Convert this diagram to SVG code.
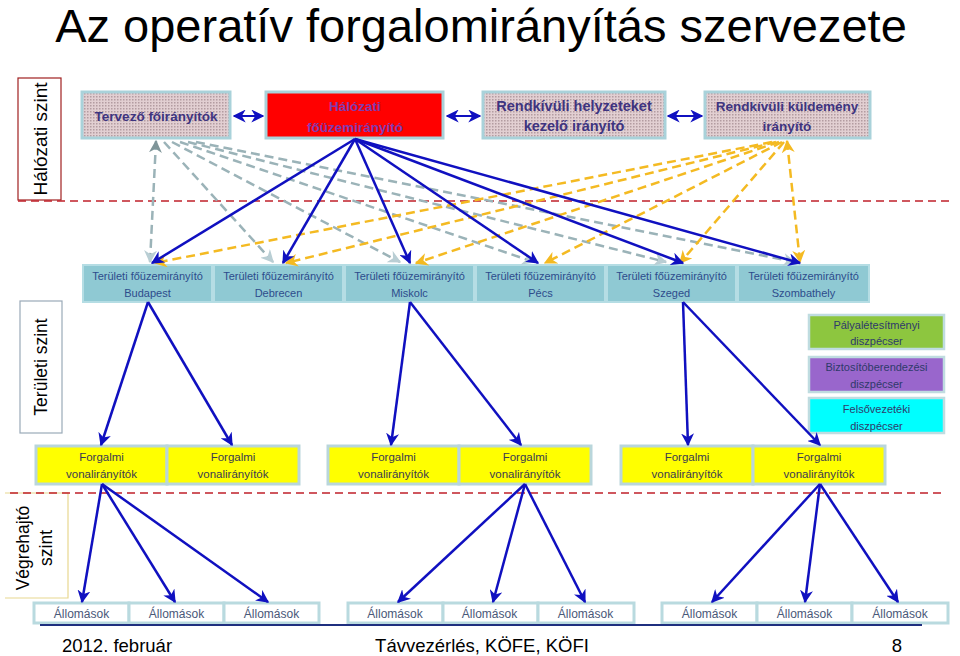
<svg xmlns="http://www.w3.org/2000/svg" width="960" height="656" viewBox="0 0 960 656">
<style>
.t{font-family:"Liberation Sans",Arial,sans-serif}
.hb{fill:url(#hatch);stroke:#A9D2DA;stroke-width:3}
.hbt{font-family:"Liberation Sans",Arial,sans-serif;font-weight:bold;font-size:13.5px;fill:#3E3480;text-anchor:middle}
.ter{fill:#8FC9D3;stroke:#B5DDE4;stroke-width:2}
.tert{font-family:"Liberation Sans",Arial,sans-serif;font-size:11px;fill:#2D4C8C;text-anchor:middle}
.fv{fill:#FFFF00;stroke:#B9D6DB;stroke-width:3}
.fvt{font-family:"Liberation Sans",Arial,sans-serif;font-size:11.5px;fill:#3A3A50;text-anchor:middle}
.al{fill:#FFFFFF;stroke:#B9DADF;stroke-width:3}
.alt{font-family:"Liberation Sans",Arial,sans-serif;font-size:12px;fill:#4A5878;text-anchor:middle}
.dt{font-family:"Liberation Sans",Arial,sans-serif;font-size:11px;fill:#2E3A6A;text-anchor:middle}
.blue{stroke:#1010C0;stroke-width:2.5;fill:none;marker-end:url(#ab)}
.gray{stroke:#9BB3B8;stroke-width:2.5;fill:none;stroke-dasharray:9 5;marker-end:url(#ag)}
.yel{stroke:#F4BA22;stroke-width:2.5;fill:none;stroke-dasharray:9 5;marker-end:url(#ay)}
.lvl{font-family:"Liberation Sans",Arial,sans-serif;fill:#000;text-anchor:middle}
</style>
<defs>
<pattern id="hatch" width="3" height="3" patternUnits="userSpaceOnUse">
<rect width="3" height="3" fill="#E2CFD2"/>
<rect x="0" y="0" width="1.5" height="1.5" fill="#B39CA1"/>
</pattern>
<marker id="ab" viewBox="0 0 10 10" refX="9" refY="5" markerWidth="13" markerHeight="13" markerUnits="userSpaceOnUse" orient="auto-start-reverse">
<path d="M0,0 L10,5 L0,10 L3,5 z" fill="#1010C0"/>
</marker>
<marker id="ag" viewBox="0 0 10 10" refX="9" refY="5" markerWidth="13" markerHeight="13" markerUnits="userSpaceOnUse" orient="auto-start-reverse">
<path d="M0,0 L10,5 L0,10 L3,5 z" fill="#B9CED4"/>
</marker>
<marker id="agd" viewBox="0 0 10 10" refX="9" refY="5" markerWidth="13" markerHeight="13" markerUnits="userSpaceOnUse" orient="auto-start-reverse">
<path d="M0,0 L10,5 L0,10 L3,5 z" fill="#7F9599"/>
</marker>
<marker id="ay" viewBox="0 0 10 10" refX="9" refY="5" markerWidth="13" markerHeight="13" markerUnits="userSpaceOnUse" orient="auto-start-reverse">
<path d="M0,0 L10,5 L0,10 L3,5 z" fill="#F4BA22"/>
</marker>
</defs>
<rect width="960" height="656" fill="#FFFFFF"/>
<text class="t" x="481" y="42" font-size="47" text-anchor="middle" fill="#000">Az operatív forgalomirányítás szervezete</text>

<!-- level labels -->
<g id="level-halozati">
<rect x="18" y="78" width="43" height="122" fill="#FFF" stroke="#A02020" stroke-width="1.2"/>
<text class="lvl" font-size="19" transform="translate(47,139) rotate(-90)">Hálózati  szint</text>
</g>
<g id="level-teruleti">
<rect x="20" y="301" width="42" height="132" fill="#FFF" stroke="#9AAAB8" stroke-width="1.2"/>
<text class="lvl" font-size="17.5" transform="translate(47,367) rotate(-90)">Területi  szint</text>
</g>
<g id="level-vegrehajto">
<path d="M5,493 L68,493 L68,598 L5,598" fill="#FFF" stroke="#E8D890" stroke-width="1.2"/>
<text class="lvl" font-size="17.5" transform="translate(29,548) rotate(-90)">Végrehajtó</text>
<text class="lvl" font-size="17.5" transform="translate(52,548) rotate(-90)">szint</text>
</g>
<line x1="18" y1="201" x2="950" y2="201" stroke="#C0202A" stroke-width="1.5" stroke-dasharray="8 5"/>
<line x1="10" y1="493" x2="945" y2="493" stroke="#C0202A" stroke-width="1.5" stroke-dasharray="8 5"/>

<!-- top row -->
<g id="tervezo">
<rect class="hb" x="82" y="92" width="148" height="46"/>
<text class="hbt" x="156" y="121">Tervező főirányítók</text>
</g>
<g id="halozati-fouzem">
<rect x="266" y="92" width="177" height="46" fill="#FF0000" stroke="#A9D2DA" stroke-width="3"/>
<text class="hbt" x="355" y="111" style="fill:#7F3CB0">Hálózati</text>
<text class="hbt" x="355" y="132" style="fill:#7F3CB0">főüzemirányító</text>
</g>
<g id="rendkivuli-helyzet">
<rect class="hb" x="483" y="92" width="182" height="46"/>
<text class="hbt" x="574" y="111" style="font-size:14.5px">Rendkívüli helyzeteket</text>
<text class="hbt" x="574" y="131" style="font-size:14.5px">kezelő irányító</text>
</g>
<g id="rendkivuli-kuldemeny">
<rect class="hb" x="705" y="92" width="165" height="46"/>
<text class="hbt" x="787" y="111">Rendkívüli küldemény</text>
<text class="hbt" x="787" y="131">irányító</text>
</g>

<!-- territorial -->
<g id="ter-budapest"><rect class="ter" x="83" y="265" width="129" height="37"/><text class="tert" x="147.5" y="280">Területi főüzemirányító</text><text class="tert" x="147.5" y="297">Budapest</text></g>
<g id="ter-debrecen"><rect class="ter" x="214" y="265" width="129" height="37"/><text class="tert" x="278.5" y="280">Területi főüzemirányító</text><text class="tert" x="278.5" y="297">Debrecen</text></g>
<g id="ter-miskolc"><rect class="ter" x="345" y="265" width="129" height="37"/><text class="tert" x="409.5" y="280">Területi főüzemirányító</text><text class="tert" x="409.5" y="297">Miskolc</text></g>
<g id="ter-pecs"><rect class="ter" x="476" y="265" width="129" height="37"/><text class="tert" x="540.5" y="280">Területi főüzemirányító</text><text class="tert" x="540.5" y="297">Pécs</text></g>
<g id="ter-szeged"><rect class="ter" x="607" y="265" width="129" height="37"/><text class="tert" x="671.5" y="280">Területi főüzemirányító</text><text class="tert" x="671.5" y="297">Szeged</text></g>
<g id="ter-szombathely"><rect class="ter" x="738" y="265" width="131" height="37"/><text class="tert" x="803.5" y="280">Területi főüzemirányító</text><text class="tert" x="803.5" y="297">Szombathely</text></g>

<!-- dispatchers -->
<g id="disp-palya"><rect x="809" y="315" width="135" height="34" fill="#8DC63F" stroke="#BFDCE0" stroke-width="2.5"/><text class="dt" x="876.5" y="329">Pályalétesítményi</text><text class="dt" x="876.5" y="345">diszpécser</text></g>
<g id="disp-bizt"><rect x="809" y="357" width="135" height="35" fill="#9966CC" stroke="#BFDCE0" stroke-width="2.5"/><text class="dt" x="876.5" y="371">Biztosítóberendezési</text><text class="dt" x="876.5" y="388">diszpécser</text></g>
<g id="disp-felso"><rect x="809" y="398" width="135" height="35" fill="#00FFFF" stroke="#BFDCE0" stroke-width="2.5"/><text class="dt" x="876.5" y="413">Felsővezetéki</text><text class="dt" x="876.5" y="430">diszpécser</text></g>

<!-- forgalmi -->
<g id="fv-1"><rect class="fv" x="36" y="446" width="131" height="38"/><text class="fvt" x="101.5" y="461">Forgalmi</text><text class="fvt" x="101.5" y="478">vonalirányítók</text></g>
<g id="fv-2"><rect class="fv" x="167" y="446" width="132" height="38"/><text class="fvt" x="233" y="461">Forgalmi</text><text class="fvt" x="233" y="478">vonalirányítók</text></g>
<g id="fv-3"><rect class="fv" x="328" y="446" width="131" height="38"/><text class="fvt" x="393.5" y="461">Forgalmi</text><text class="fvt" x="393.5" y="478">vonalirányítók</text></g>
<g id="fv-4"><rect class="fv" x="459" y="446" width="132" height="38"/><text class="fvt" x="525" y="461">Forgalmi</text><text class="fvt" x="525" y="478">vonalirányítók</text></g>
<g id="fv-5"><rect class="fv" x="621" y="446" width="132" height="38"/><text class="fvt" x="687" y="461">Forgalmi</text><text class="fvt" x="687" y="478">vonalirányítók</text></g>
<g id="fv-6"><rect class="fv" x="753" y="446" width="132" height="38"/><text class="fvt" x="819" y="461">Forgalmi</text><text class="fvt" x="819" y="478">vonalirányítók</text></g>

<!-- allomasok -->
<g id="al-1"><rect class="al" x="34" y="603" width="95" height="20"/><text class="alt" x="81.5" y="618">Állomások</text></g>
<g id="al-2"><rect class="al" x="129" y="603" width="95" height="20"/><text class="alt" x="176.5" y="618">Állomások</text></g>
<g id="al-3"><rect class="al" x="224" y="603" width="95" height="20"/><text class="alt" x="271.5" y="618">Állomások</text></g>
<g id="al-4"><rect class="al" x="348" y="603" width="95" height="20"/><text class="alt" x="395" y="618">Állomások</text></g>
<g id="al-5"><rect class="al" x="443" y="603" width="95" height="20"/><text class="alt" x="489.5" y="618">Állomások</text></g>
<g id="al-6"><rect class="al" x="538" y="603" width="96" height="20"/><text class="alt" x="585.5" y="618">Állomások</text></g>
<g id="al-7"><rect class="al" x="662" y="603" width="95" height="20"/><text class="alt" x="709.5" y="618">Állomások</text></g>
<g id="al-8"><rect class="al" x="757" y="603" width="95" height="20"/><text class="alt" x="804.5" y="618">Állomások</text></g>
<g id="al-9"><rect class="al" x="852" y="603" width="96" height="20"/><text class="alt" x="900" y="618">Állomások</text></g>

<!-- connectors -->
<g id="connectors">
<line x1="234" y1="116" x2="263" y2="116" stroke="#1010C0" stroke-width="2" marker-start="url(#ab)" marker-end="url(#ab)"/>
<line x1="447" y1="116" x2="480" y2="116" stroke="#1010C0" stroke-width="2" marker-start="url(#ab)" marker-end="url(#ab)"/>
<line x1="668" y1="116" x2="702" y2="116" stroke="#1010C0" stroke-width="2" marker-start="url(#ab)" marker-end="url(#ab)"/>

<line class="gray" x1="156" y1="141" x2="150" y2="262" style="marker-start:url(#agd)"/>
<line class="gray" x1="164" y1="142" x2="273" y2="262"/>
<line class="gray" x1="172" y1="142" x2="400" y2="262"/>
<line class="gray" x1="180" y1="142" x2="534" y2="262"/>
<line class="gray" x1="188" y1="142" x2="666" y2="262"/>
<line class="gray" x1="196" y1="142" x2="795" y2="262"/>

<line class="yel" x1="772" y1="142" x2="155" y2="263"/>
<line class="yel" x1="776" y1="142" x2="286" y2="263"/>
<line class="yel" x1="779" y1="142" x2="416" y2="263"/>
<line class="yel" x1="782" y1="142" x2="545" y2="263"/>
<line class="yel" x1="784" y1="142" x2="680" y2="263"/>
<line class="yel" x1="787" y1="141" x2="800" y2="262" style="marker-start:url(#ay)"/>

<line class="blue" x1="355" y1="139" x2="152" y2="263"/>
<line class="blue" x1="355" y1="139" x2="283" y2="263"/>
<line class="blue" x1="355" y1="139" x2="410" y2="263"/>
<line class="blue" x1="355" y1="139" x2="538" y2="263"/>
<line class="blue" x1="355" y1="139" x2="683" y2="263"/>
<line class="blue" x1="355" y1="139" x2="800" y2="263"/>

<line class="blue" x1="148" y1="302" x2="101" y2="445"/>
<line class="blue" x1="148" y1="302" x2="232" y2="445"/>
<line class="blue" x1="410" y1="302" x2="391" y2="445"/>
<line class="blue" x1="410" y1="302" x2="521" y2="445"/>
<line class="blue" x1="683" y1="302" x2="688" y2="445"/>
<line class="blue" x1="683" y1="302" x2="820" y2="445"/>

<line class="blue" x1="102" y1="484" x2="82" y2="602"/>
<line class="blue" x1="102" y1="484" x2="175" y2="602"/>
<line class="blue" x1="102" y1="484" x2="268" y2="602"/>
<line class="blue" x1="525" y1="484" x2="398" y2="602"/>
<line class="blue" x1="525" y1="484" x2="493" y2="602"/>
<line class="blue" x1="525" y1="484" x2="585" y2="602"/>
<line class="blue" x1="820" y1="484" x2="712" y2="602"/>
<line class="blue" x1="820" y1="484" x2="805" y2="602"/>
<line class="blue" x1="820" y1="484" x2="898" y2="602"/>
</g>

<!-- footer -->
<line x1="40" y1="625" x2="922" y2="625" stroke="#1F2F7F" stroke-width="2"/>
<text class="t" x="62" y="652" font-size="18.5" fill="#000">2012. február</text>
<text class="t" x="482" y="652" font-size="18.5" fill="#000" text-anchor="middle">Távvezérlés, KÖFE, KÖFI</text>
<text class="t" x="897" y="652" font-size="18.5" fill="#000" text-anchor="middle">8</text>
</svg>
